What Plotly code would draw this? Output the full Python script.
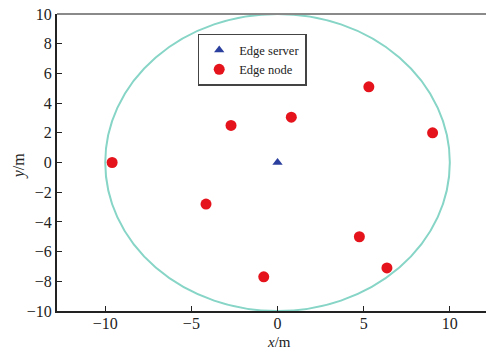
import plotly.graph_objects as go

server_x = [0.0]
server_y = [0.0]
node_x = [-9.6, -2.7, 0.8, 5.3, 9.0, -4.15, 4.75, 6.35, -0.8]
node_y = [0.0, 2.5, 3.05, 5.1, 2.0, -2.8, -5.0, -7.1, -7.7]
radius = 10
x_ticks = [-10, -5, 0, 5, 10]
y_ticks = [-10, -8, -6, -4, -2, 0, 2, 4, 6, 8, 10]

font = "Liberation Serif"

fig = go.Figure()
fig.add_trace(go.Scatter(x=server_x, y=server_y, mode="markers", name="Edge server",
                         marker=dict(symbol="triangle-up", size=9, color="#2b3f9e")))
fig.add_trace(go.Scatter(x=node_x, y=node_y, mode="markers", name="Edge node",
                         marker=dict(symbol="circle", size=11, color="#e5141c")))

fig.add_shape(type="circle", xref="x", yref="y", x0=-radius, x1=radius, y0=-radius, y1=radius,
              line=dict(color="#86d5c6", width=2), layer="below")
fig.add_shape(type="line", xref="paper", yref="paper", x0=0, x1=1, y0=1, y1=1,
              line=dict(color="#8a8a8a", width=2))

fig.add_annotation(text="<i>x</i>/m", xref="paper", yref="paper", x=0.517, y=-0.104,
                   xanchor="center", yanchor="middle", showarrow=False, font=dict(size=15, family=font, color="#222"))
fig.add_annotation(text="<i>y</i>/m", xref="paper", yref="paper", x=-0.088, y=0.488,
                   xanchor="center", yanchor="middle", textangle=-90, showarrow=False,
                   font=dict(size=16, family=font, color="#222"))

fig.update_layout(
    width=486, height=352,
    margin=dict(l=57, r=0, t=14, b=41),
    paper_bgcolor="white", plot_bgcolor="white",
    font=dict(family=font, size=16, color="#222"),
    showlegend=True,
    legend=dict(x=0.328, y=0.933, xanchor="left", yanchor="top",
                bordercolor="#444", borderwidth=1.5, bgcolor="white",
                font=dict(size=12.5, family=font, color="#222"), tracegroupgap=0,
                itemwidth=30),
    xaxis=dict(range=[-12.8, 12.1], tickvals=x_ticks, ticks="inside", ticklen=5,
               tickcolor="#222", showline=True, linecolor="#222", linewidth=2,
               showgrid=False, zeroline=False, automargin=False, ticklabelstandoff=-3),
    yaxis=dict(range=[-10, 10], tickvals=y_ticks, ticks="inside", ticklen=5,
               tickcolor="#222", showline=True, linecolor="#222", linewidth=2,
               showgrid=False, zeroline=False, automargin=False),
)

fig.write_html("out.html", config={"displayModeBar": False},
               post_script="document.body.style.margin='0';document.body.style.overflow='hidden';")
